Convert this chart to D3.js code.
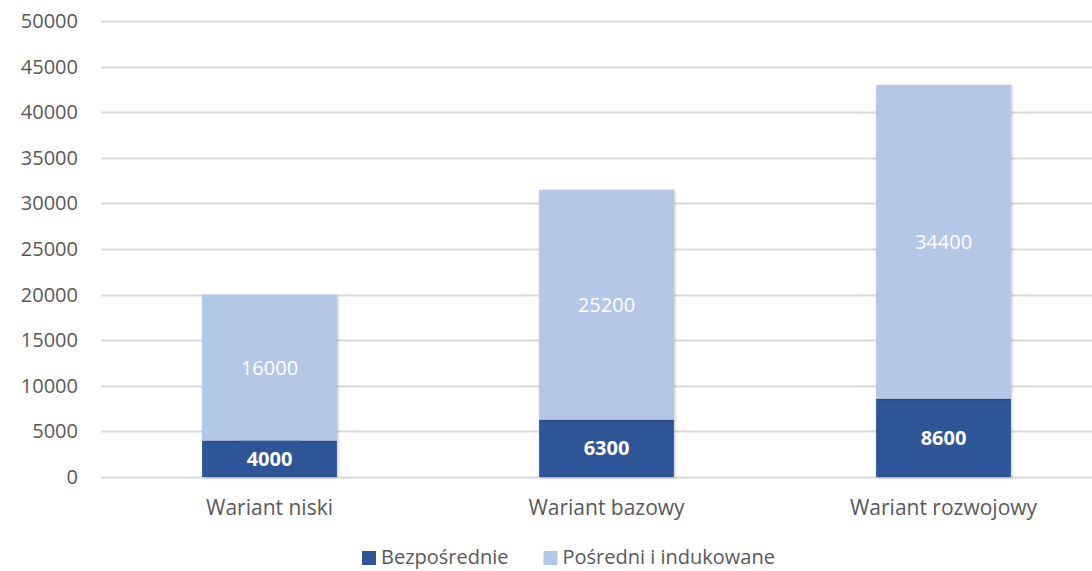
<!DOCTYPE html>
<html>
<head>
<meta charset="utf-8">
<script src="https://cdn.jsdelivr.net/npm/d3@7"></script>
<style>
  body { margin: 0; background: #fff; }
  svg text { font-family: "Open Sans", "Noto Sans", sans-serif; }
</style>
</head>
<body>
<div id="chart"></div>
<script>
// data
const categories = ["Wariant niski", "Wariant bazowy", "Wariant rozwojowy"];
const direct = [4000, 6300, 8600];
const indirect = [16000, 25200, 34400];
const seriesNames = ["Bezpośrednie", "Pośredni i indukowane"];
const yTicks = [0, 5000, 10000, 15000, 20000, 25000, 30000, 35000, 40000, 45000, 50000];

const colors = ["#2F5597", "#B4C7E7"];
const width = 1092, height = 571;
const margin = { top: 21, bottom: 94, left: 101 };
const fontSize = 20;

const svg = d3.select("#chart").append("svg")
    .attr("width", width)
    .attr("height", height);

const defs = svg.append("defs");
const shadow = defs.append("filter").attr("id", "shadow")
    .attr("x", "-10%").attr("y", "-10%").attr("width", "120%").attr("height", "120%");
shadow.append("feDropShadow")
    .attr("dx", 1).attr("dy", 1).attr("stdDeviation", 1.5)
    .attr("flood-color", "#000").attr("flood-opacity", 0.25);

// plot area runs a bit past the right edge of the picture
const x = d3.scaleBand()
    .domain(categories)
    .range([margin.left, 1112])
    .paddingInner(0.6)
    .paddingOuter(0.3);

const y = d3.scaleLinear()
    .domain([0, 50000])
    .range([height - margin.bottom, margin.top]);

// gridlines
svg.append("g")
    .selectAll("line")
    .data(yTicks)
    .join("line")
    .attr("x1", margin.left)
    .attr("x2", width)
    .attr("y1", d => Math.round(y(d)) + 0.5)
    .attr("y2", d => Math.round(y(d)) + 0.5)
    .attr("stroke", "#D9D9D9")
    .attr("stroke-width", 2);

// y axis labels
svg.append("g")
    .selectAll("text")
    .data(yTicks)
    .join("text")
    .attr("x", 78)
    .attr("y", d => y(d))
    .attr("dy", "0.35em")
    .attr("text-anchor", "end")
    .attr("font-size", fontSize)
    .attr("fill", "#595959")
    .text(d => d);

const rows = categories.map((c, i) => ({ cat: c, direct: direct[i], indirect: indirect[i] }));
const stack = d3.stack().keys(["direct", "indirect"])(rows);

const layers = svg.append("g")
    .selectAll("g")
    .data(stack)
    .join("g")
    .attr("fill", (d, i) => colors[i]);

layers.selectAll("rect")
    .data(d => d)
    .join("rect")
    .attr("x", d => x(d.data.cat))
    .attr("width", x.bandwidth())
    .attr("y", d => y(d[1]))
    .attr("height", d => y(d[0]) - y(d[1]))
    .attr("filter", "url(#shadow)");

// data labels
stack.forEach((layer, li) => {
    const g = svg.append("g");
    layer.forEach(d => {
        const t = g.append("text")
            .attr("x", x(d.data.cat) + x.bandwidth() / 2)
            .attr("y", y((d[0] + d[1]) / 2))
            .attr("dy", "0.35em")
            .attr("text-anchor", "middle")
            .attr("font-size", fontSize)
            .attr("font-weight", li === 0 ? "bold" : "normal")
            .attr("fill", "#fff")
            .text(d[1] - d[0]);
        if (li === 0) {
            // filled label box as in the original
            const b = t.node().getBBox();
            g.insert("rect", "text")
                .attr("x", b.x - 8)
                .attr("y", b.y - 4)
                .attr("width", b.width + 16)
                .attr("height", b.height + 8)
                .attr("fill", colors[0]);
        }
    });
});

// category labels
svg.append("g")
    .selectAll("text")
    .data(categories)
    .join("text")
    .attr("x", d => x(d) + x.bandwidth() / 2)
    .attr("y", 508)
    .attr("dy", "0.35em")
    .attr("text-anchor", "middle")
    .attr("font-size", 21)
    .attr("fill", "#595959")
    .text(d => d);

// legend
const legend = svg.append("g");
let lx = 362;
seriesNames.forEach((name, i) => {
    legend.append("rect")
        .attr("x", lx)
        .attr("y", 551)
        .attr("width", 14)
        .attr("height", 14)
        .attr("fill", colors[i]);
    const t = legend.append("text")
        .attr("x", lx + 19)
        .attr("y", 557)
        .attr("dy", "0.35em")
        .attr("font-size", fontSize)
        .attr("fill", "#595959")
        .text(name);
    lx += 19 + t.node().getComputedTextLength() + 35;
});
</script>
</body>
</html>
